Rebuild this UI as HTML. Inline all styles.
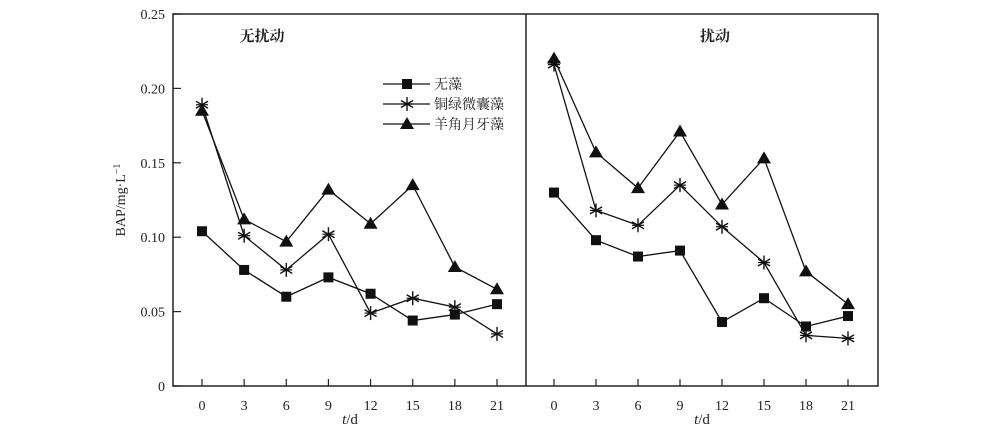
<!DOCTYPE html>
<html><head><meta charset="utf-8"><style>
html,body{margin:0;padding:0;background:#fff;}
svg{display:block;font-family:"Liberation Serif","Noto Serif CJK SC",serif;}
</style></head><body>
<svg id="chart" width="993" height="431" viewBox="0 0 993 431" xmlns="http://www.w3.org/2000/svg"></svg>
<script>
const days = [0,3,6,9,12,15,18,21];
const yTicks = [0,0.05,0.10,0.15,0.20,0.25];
const yTickLabels = ["0","0.05","0.10","0.15","0.20","0.25"];
const seriesNames = ["无藻","铜绿微囊藻","羊角月牙藻"];
const panelTitles = ["无扰动","扰动"];
const left_none = [0.104,0.078,0.060,0.073,0.062,0.044,0.048,0.055];
const left_micro = [0.189,0.101,0.078,0.102,0.049,0.059,0.053,0.035];
const left_clos = [0.185,0.112,0.097,0.132,0.109,0.135,0.080,0.065];
const right_none = [0.130,0.098,0.087,0.091,0.043,0.059,0.040,0.047];
const right_micro = [0.216,0.118,0.108,0.135,0.107,0.083,0.034,0.032];
const right_clos = [0.220,0.157,0.133,0.171,0.122,0.153,0.077,0.055];

const NS="http://www.w3.org/2000/svg";
const svg=document.getElementById('chart');
function mk(tag,attrs,parent){const e=document.createElementNS(NS,tag);for(const k in attrs)e.setAttribute(k,attrs[k]);(parent||svg).appendChild(e);return e;}
const X0=173,X1=878,XD=526,YT=14,YB=386;
function y(v){return YB-(v/0.25)*(YB-YT);}
function xL(d){return 202+d*(497-202)/21;}
function xR(d){return 554+d*(848-554)/21;}
let e;
e=mk('rect',{x:X0,y:YT,width:X1-X0,height:YB-YT,fill:'none',stroke:'#222','stroke-width':1.5});


e=mk('line',{x1:XD,y1:YT,x2:XD,y2:YB,stroke:'#222','stroke-width':1.5});


yTicks.forEach((v,i)=>{
  e=mk('line',{x1:X0,y1:y(v),x2:X0+8,y2:y(v),stroke:'#222','stroke-width':1.2});
  
  
  e=mk('text',{x:X0-8,y:y(v)+5,'text-anchor':'end','font-size':14,fill:'#222'});
  e.textContent=yTickLabels[i];
  
  
});
[xL,xR].forEach(fx=>{
  days.forEach(d=>{
    e=mk('line',{x1:fx(d),y1:YB,x2:fx(d),y2:YB-7,stroke:'#222','stroke-width':1.2});
    
    
    e=mk('text',{x:fx(d),y:YB+24,'text-anchor':'middle','font-size':14,fill:'#222'});
    e.textContent=String(d);
    
    
  });
});
[[350,'x-axis-title-left'],[702,'x-axis-title-right']].forEach(([cx,n])=>{
  e=mk('text',{x:cx,y:424,'text-anchor':'middle','font-size':15,fill:'#222'});
  e.innerHTML='<tspan font-style="italic">t</tspan>/d';
  
  
});
e=mk('text',{x:0,y:0,'text-anchor':'middle','font-size':14,fill:'#222',transform:'translate(125,200) rotate(-90)'});
e.innerHTML='BAP/mg·L<tspan dy="-5" font-size="10">−1</tspan>';


[[262,0],[715,1]].forEach(([cx,i])=>{
  e=mk('text',{x:cx,y:41,'text-anchor':'middle','font-size':15,'font-weight':'bold',fill:'#222'});
  e.textContent=panelTitles[i];
  
  
});
function marker(type,cx,cy,g){
  if(type===0){mk('rect',{x:cx-5,y:cy-5,width:10,height:10,fill:'#111'},g);}
  else if(type===1){
    for(const a of [0,60,120]){const r=a*Math.PI/180;mk('line',{x1:cx-7*Math.sin(r),y1:cy-7*Math.cos(r),x2:cx+7*Math.sin(r),y2:cy+7*Math.cos(r),stroke:'#111','stroke-width':1.4},g);}
    mk('line',{x1:cx-6,y1:cy,x2:cx+6,y2:cy,stroke:'#111','stroke-width':1.2},g);
  } else {mk('polygon',{points:`${cx},${cy-7} ${cx-7},${cy+5} ${cx+7},${cy+5}`,fill:'#111'},g);}
}
function series(vals,fx,type,name){
  const g=mk('g',{});
  
  
  mk('polyline',{points:days.map((d,i)=>fx(d)+','+y(vals[i])).join(' '),fill:'none',stroke:'#111','stroke-width':1.3},g);
  days.forEach((d,i)=>marker(type,fx(d),y(vals[i]),g));
}
series(left_none,xL,0,'series-no-algae-undisturbed');
series(left_micro,xL,1,'series-microcystis-undisturbed');
series(left_clos,xL,2,'series-closterium-undisturbed');
series(right_none,xR,0,'series-no-algae-disturbed');
series(right_micro,xR,1,'series-microcystis-disturbed');
series(right_clos,xR,2,'series-closterium-disturbed');
seriesNames.forEach((n,i)=>{
  const g=mk('g',{});
  
  
  const ly=84+i*20;
  mk('line',{x1:383,y1:ly,x2:430,y2:ly,stroke:'#111','stroke-width':1.3},g);
  marker(i,407,ly,g);
  const t=mk('text',{x:434,y:ly+5,'font-size':14,fill:'#222'},g);
  t.textContent=n;
});
</script>
</body></html>
